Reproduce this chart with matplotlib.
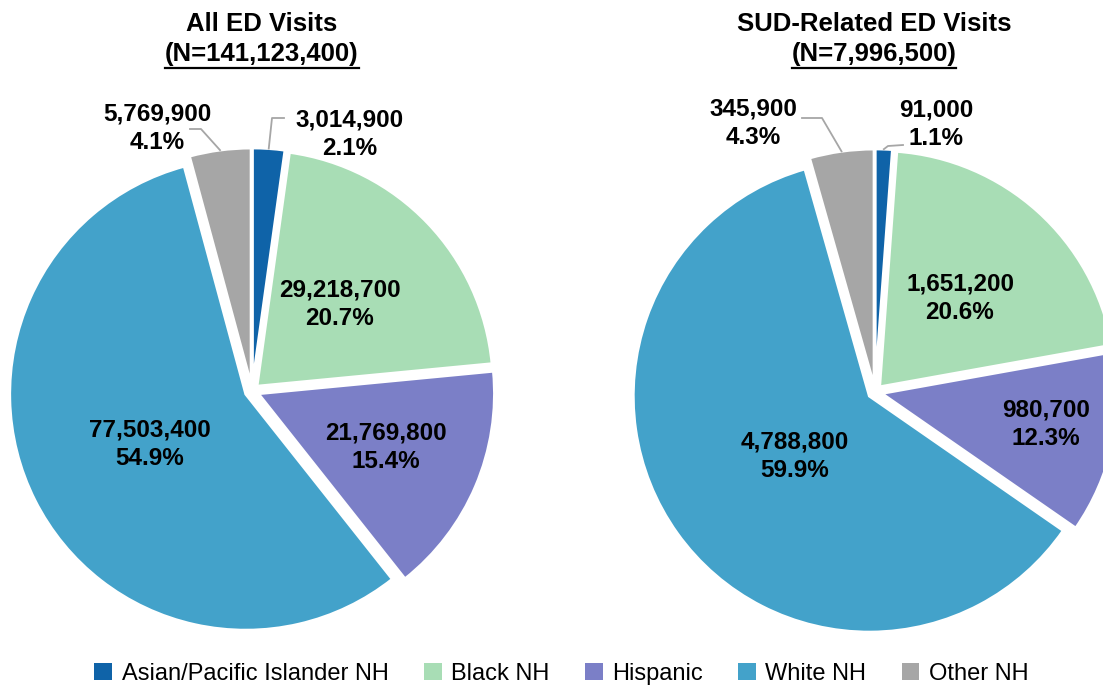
import matplotlib
matplotlib.use('Agg')
import matplotlib.pyplot as plt
from matplotlib.patches import Patch
import numpy as np

categories = ['Asian/Pacific Islander NH', 'Black NH', 'Hispanic', 'White NH', 'Other NH']
colors = ['#0F63A8', '#A8DDB5', '#7B7FC7', '#43A2CA', '#A6A6A6']

all_counts = [3014900, 29218700, 21769800, 77503400, 5769900]
all_pcts = ['2.1%', '20.7%', '15.4%', '54.9%', '4.1%']
sud_counts = [91000, 1651200, 980700, 4788800, 345900]
sud_pcts = ['1.1%', '20.6%', '12.3%', '59.9%', '4.3%']

all_title = 'All ED Visits'
all_total = '(N=141,123,400)'
sud_title = 'SUD-Related ED Visits'
sud_total = '(N=7,996,500)'

W, H = 1103, 685
plt.rcParams['font.family'] = ['Liberation Sans', 'DejaVu Sans']

fig = plt.figure(figsize=(W / 100, H / 100), dpi=100)
ax = fig.add_axes([0, 0, 1, 1])


def y(py):
    """ flip a top-down pixel row into data y """
    return H - py


def draw_pie(counts, pcts, center, radius, label_pos, leaders):
    """ Exploded pie with value/percent labels, leader lines for the thin slices """
    wedges, _ = ax.pie(counts, colors=colors, startangle=90, counterclock=False,
                       center=(center[0], y(center[1])), radius=radius,
                       explode=[7] * len(counts),
                       wedgeprops=dict(edgecolor='white', linewidth=2))
    for i, (lx, ly) in enumerate(label_pos):
        ax.text(lx, y(ly), f'{counts[i]:,}\n{pcts[i]}', ha='center', va='center',
                fontsize=17.5, fontweight='bold', linespacing=1.28)
    for i, pts in leaders.items():
        w = wedges[i]
        mid = np.deg2rad((w.theta1 + w.theta2) / 2)
        x0 = w.center[0] + w.r * np.cos(mid)
        y0 = w.center[1] + w.r * np.sin(mid)
        ax.plot([x0] + [p[0] for p in pts], [y0] + [y(p[1]) for p in pts],
                color='#A6A6A6', lw=1.3)


def draw_title(cx, title, total):
    ax.text(cx, y(24), title, ha='center', va='center', fontsize=18.5, fontweight='bold')
    return ax.text(cx, y(54), total, ha='center', va='center', fontsize=18.5, fontweight='bold')


draw_pie(all_counts, all_pcts, (252, 391), 236,
         [(350, 134), (340, 304), (386, 447), (150, 444), (157, 128)],
         {0: [(272, 118), (284, 118)], 4: [(201, 129), (190, 129)]})
draw_pie(sud_counts, sud_pcts, (875, 392), 236,
         [(936, 124), (960, 298), (1046, 424), (795, 456), (753, 123)],
         {0: [(888, 146), (903, 145)], 4: [(822, 118), (802, 118)]})

t1 = draw_title(262, all_title, all_total)
t2 = draw_title(874, sud_title, sud_total)

ax.set_xlim(0, W)
ax.set_ylim(0, H)
ax.axis('off')

# underline the N= lines
fig.canvas.draw()
for t in (t1, t2):
    bb = t.get_window_extent()
    ax.plot([bb.x0, bb.x1], [y(68), y(68)], color='black', lw=1.6)

handles = [Patch(facecolor=c) for c in colors]
fig.legend(handles, categories, loc='center', bbox_to_anchor=(561.5 / W, (H - 674) / H),
           ncol=5, frameon=False, fontsize=17, handlelength=0.75, handleheight=0.75,
           handletextpad=0.4, columnspacing=1.5, borderaxespad=0, borderpad=0)

fig.savefig('out.png', dpi=100)
